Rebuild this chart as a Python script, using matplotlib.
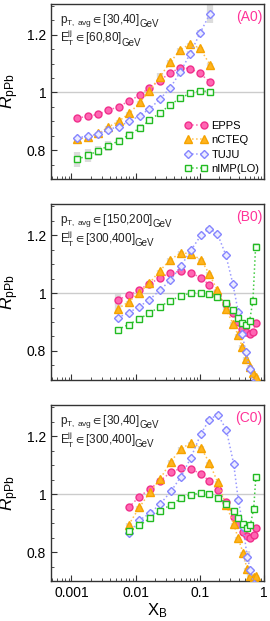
import matplotlib
matplotlib.use('Agg')
import matplotlib.pyplot as plt
from matplotlib.ticker import MultipleLocator, FixedLocator, NullFormatter

plt.rcParams['font.family'] = ['Liberation Sans', 'DejaVu Sans']
plt.rcParams['mathtext.fontset'] = 'custom'
plt.rcParams['mathtext.rm'] = 'Liberation Sans'
plt.rcParams['mathtext.it'] = 'Liberation Sans:italic'
plt.rcParams['mathtext.fallback'] = 'stixsans'

# ---- panel A0 ----
xA = [0.00124, 0.00181, 0.00262, 0.00375, 0.00541, 0.00801, 0.0116, 0.0164, 0.0237, 0.0347, 0.0496, 0.0708, 0.100, 0.143]
eppsA = [0.912, 0.917, 0.925, 0.938, 0.951, 0.971, 0.991, 1.017, 1.041, 1.069, 1.085, 1.083, 1.066, 1.037]
ncteqA = [0.838, 0.845, 0.858, 0.880, 0.900, 0.928, 0.966, 1.006, 1.054, 1.105, 1.149, 1.168, 1.154, 1.097]
tujuA = [0.843, 0.849, 0.857, 0.871, 0.882, 0.900, 0.920, 0.943, 0.976, 1.017, 1.071, 1.135, 1.205, 1.272]
nimpA = [0.768, 0.782, 0.798, 0.815, 0.832, 0.854, 0.877, 0.903, 0.929, 0.957, 0.981, 0.997, 1.006, 1.003]
eppsA_err = [0.004] * 14
ncteqA_err = [0.005, 0.005, 0.005, 0.005, 0.005, 0.005, 0.005, 0.005, 0.012, 0.006, 0.005, 0.005, 0.005, 0.005]
tujuA_err = [0.004, 0.004, 0.004, 0.004, 0.004, 0.004, 0.004, 0.004, 0.004, 0.006, 0.01, 0.008, 0.01, 0.03]
nimpA_err = [0.026, 0.023, 0.017, 0.017, 0.015, 0.014, 0.012, 0.01, 0.008, 0.006, 0.005, 0.004, 0.004, 0.004]

# ---- panel B0 ----
xB = [0.00528, 0.00773, 0.0112, 0.0164, 0.0236, 0.0347, 0.0507, 0.0724, 0.104, 0.139,
      0.187, 0.253, 0.328, 0.396, 0.457, 0.516, 0.595, 0.670, 0.738]
eppsB = [0.977, 0.992, 1.011, 1.032, 1.051, 1.070, 1.075, 1.070, 1.052, 1.029,
         0.994, 0.963, 0.932, 0.900, 0.877, 0.866, 0.860, 0.866, 0.895]
ncteqB = [0.946, 0.969, 1.000, 1.034, 1.076, 1.115, 1.139, 1.135, 1.115, 1.067,
          1.009, 0.946, 0.894, 0.854, 0.814, 0.774, 0.745, 0.725, 0.712]
tujuB = [0.915, 0.932, 0.952, 0.977, 1.009, 1.044, 1.093, 1.147, 1.199, 1.222,
         1.205, 1.132, 1.030, 0.935, 0.860, 0.797, 0.739, 0.690, 0.650]
nimpB = [0.874, 0.891, 0.910, 0.931, 0.952, 0.974, 0.990, 1.000, 1.001, 0.997,
         0.986, 0.966, 0.940, 0.915, 0.898, 0.889, 0.904, 0.972, 1.159]
eppsB_err = [0.02] + [0.004] * 18
ncteqB_err = [0.02] + [0.005] * 18
tujuB_err = [0.004] * 19
nimpB_err = [0.004] * 18 + [0.015]

# ---- panel C0 ----
xC = [0.0078, 0.0114, 0.0166, 0.0240, 0.0354, 0.0507, 0.0724, 0.104, 0.141,
      0.190, 0.258, 0.336, 0.396, 0.474, 0.545, 0.613, 0.689, 0.745]
eppsC = [0.954, 0.991, 1.017, 1.046, 1.075, 1.089, 1.087, 1.069, 1.045,
         1.014, 0.971, 0.922, 0.895, 0.870, 0.855, 0.850, 0.860, 0.884]
ncteqC = [0.894, 0.954, 1.006, 1.052, 1.112, 1.156, 1.176, 1.160, 1.107,
          1.040, 0.962, 0.896, 0.847, 0.795, 0.740, 0.718, 0.715, 0.716]
tujuC = [0.864, 0.910, 0.933, 0.965, 1.009, 1.060, 1.125, 1.208, 1.257,
         1.274, 1.222, 1.104, 0.981, 0.885, 0.784, 0.738, 0.690, 0.650]
nimpC = [0.871, 0.892, 0.916, 0.942, 0.963, 0.985, 0.998, 1.003, 1.000,
         0.988, 0.967, 0.942, 0.917, 0.896, 0.884, 0.894, 0.950, 1.058]
eppsC_err = [0.004] * 18
ncteqC_err = [0.005] * 18
tujuC_err = [0.004] * 14 + [0.02, 0.006, 0.004, 0.004]
nimpC_err = [0.004] * 17 + [0.012]

labels = ['EPPS', 'nCTEQ', 'TUJU', 'nIMP(LO)']
edge = ['#f0308c', '#f5a300', '#8585ff', '#22bb22']
face = ['#ff66b3', '#ffb41f', '#ececff', '#f4fff4']
line = ['#ff66b3', '#ffc04d', '#9a9aff', '#44cc44']
marker = ['o', '^', 'D', 's']
msize = [5.0, 5.8, 4.4, 4.4]

panels = [
    ('(A0)', '[30,40]', '[60,80]', xA,
     [eppsA, ncteqA, tujuA, nimpA], [eppsA_err, ncteqA_err, tujuA_err, nimpA_err]),
    ('(B0)', '[150,200]', '[300,400]', xB,
     [eppsB, ncteqB, tujuB, nimpB], [eppsB_err, ncteqB_err, tujuB_err, nimpB_err]),
    ('(C0)', '[30,40]', '[300,400]', xC,
     [eppsC, ncteqC, tujuC, nimpC], [eppsC_err, ncteqC_err, tujuC_err, nimpC_err]),
]

fig = plt.figure(figsize=(2.7, 6.21), dpi=100)
boxes = [[0.189, 0.7118, 0.789, 0.2818],
         [0.189, 0.3881, 0.789, 0.2834],
         [0.189, 0.0644, 0.789, 0.2834]]

for i, (tag, pt, et, x, ys, errs) in enumerate(panels):
    ax = fig.add_axes(boxes[i])
    ax.axhline(1.0, color='#cccccc', lw=1, zorder=0)
    for k in range(4):
        ax.errorbar(x, ys[k], yerr=errs[k], fmt='none', ecolor='#dcdcdc',
                    elinewidth=4.5, capsize=0, zorder=1)
    for k in range(4):
        ax.plot(x, ys[k], ls=':', lw=1.1, color=line[k], marker=marker[k],
                ms=msize[k], mfc=face[k], mec=edge[k], mew=1.0,
                label=labels[k], zorder=3 + k * 0.1)

    ax.set_xscale('log')
    ax.set_xlim(0.00048, 1.0)
    ax.set_ylim(0.70, 1.307)
    ax.yaxis.set_major_locator(FixedLocator([0.8, 1.0, 1.2]))
    ax.set_yticklabels(['0.8', '1', '1.2'])
    ax.yaxis.set_minor_locator(MultipleLocator(0.05))
    ax.tick_params(which='both', direction='in', top=False, right=False,
                   labelsize=10, color='#333333')
    ax.tick_params(which='major', length=4, width=0.8)
    ax.tick_params(which='minor', length=2, width=0.6)
    for s in ax.spines.values():
        s.set_color('#333333')
        s.set_linewidth(1.0)

    ax.set_ylabel(r'$R_{\mathregular{pPb}}$', fontsize=12.5, labelpad=4)
    if i < 2:
        ax.xaxis.set_major_formatter(NullFormatter())
    else:
        ax.set_xticks([0.001, 0.01, 0.1, 1])
        ax.set_xticklabels(['0.001', '0.01', '0.1', '1'])
        ax.set_xlabel(r'$\mathregular{X_B}$', fontsize=12, labelpad=1)

    t1 = ax.text(0.04, 0.891, r'$\mathregular{p_{T,\;avg}}\in$' + pt,
                 transform=ax.transAxes, fontsize=8.5, color='#222222')
    ax.annotate('GeV', xy=(1, 0.02), xycoords=t1, fontsize=7, color='#222222',
                va='bottom')
    t2 = ax.text(0.04, 0.777, r'$\mathregular{E_T^{jj}}\in$' + et,
                 transform=ax.transAxes, fontsize=8.5, color='#222222')
    ax.annotate('GeV', xy=(1, 0.02), xycoords=t2, fontsize=7, color='#222222',
                va='bottom')
    ax.text(0.993, 0.926, tag, transform=ax.transAxes, fontsize=10,
            color='#ff3399', ha='right', va='center')

    if i == 0:
        ax.legend(loc='lower right', bbox_to_anchor=(1.01, -0.01), fontsize=8,
                  frameon=False, numpoints=2, handlelength=2.1,
                  handletextpad=0.35, labelspacing=0.4, borderaxespad=0.2)

fig.savefig('out.png', dpi=100)
